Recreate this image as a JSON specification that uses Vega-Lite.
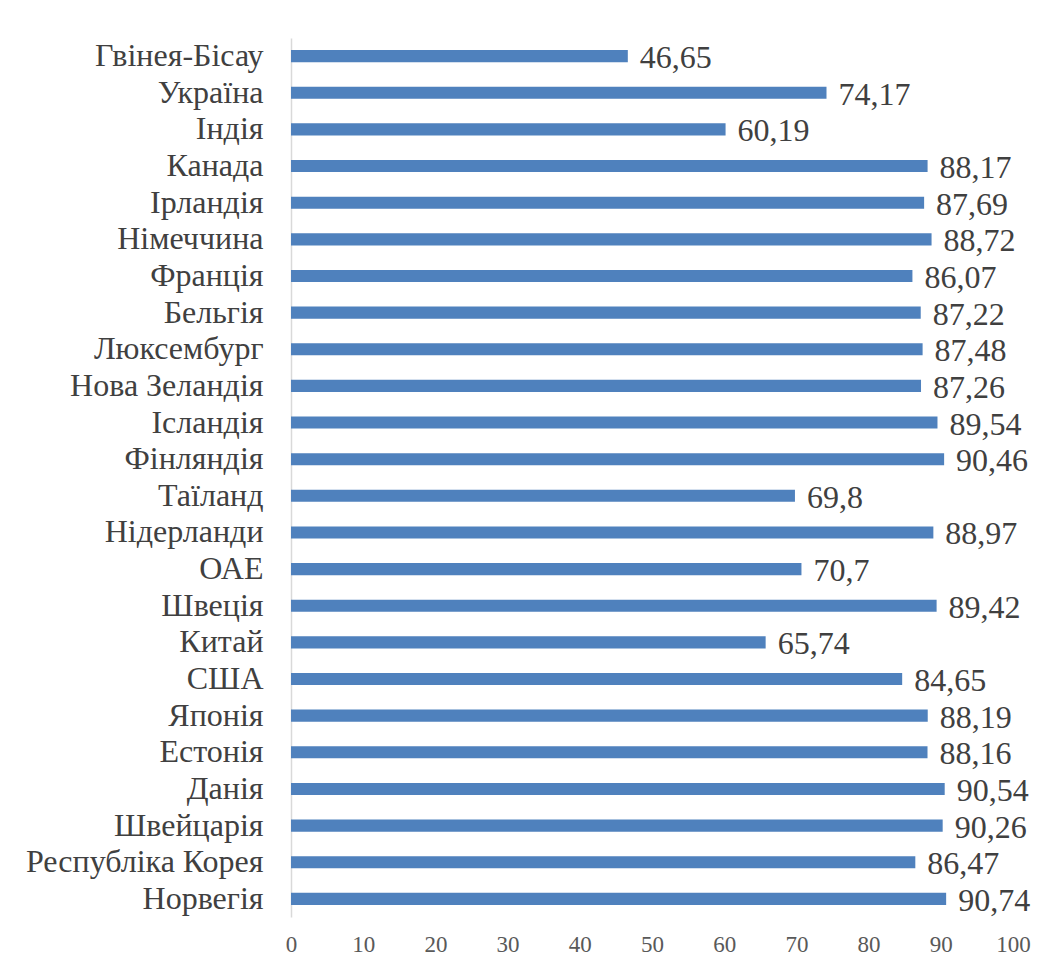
{
  "$schema": "https://vega.github.io/schema/vega-lite/v6.json",
  "width": 722,
  "height": 879,
  "autosize": "none",
  "padding": {"left": 291, "top": 38, "right": 39, "bottom": 49},
  "background": "white",
  "config": {"view": {"stroke": null}, "font": "Liberation Serif"},
  "data": {"values": [
    {"country": "Гвінея-Бісау", "value": 46.65, "label": "46,65"},
    {"country": "Україна", "value": 74.17, "label": "74,17"},
    {"country": "Індія", "value": 60.19, "label": "60,19"},
    {"country": "Канада", "value": 88.17, "label": "88,17"},
    {"country": "Ірландія", "value": 87.69, "label": "87,69"},
    {"country": "Німеччина", "value": 88.72, "label": "88,72"},
    {"country": "Франція", "value": 86.07, "label": "86,07"},
    {"country": "Бельгія", "value": 87.22, "label": "87,22"},
    {"country": "Люксембург", "value": 87.48, "label": "87,48"},
    {"country": "Нова Зеландія", "value": 87.26, "label": "87,26"},
    {"country": "Ісландія", "value": 89.54, "label": "89,54"},
    {"country": "Фінляндія", "value": 90.46, "label": "90,46"},
    {"country": "Таїланд", "value": 69.8, "label": "69,8"},
    {"country": "Нідерланди", "value": 88.97, "label": "88,97"},
    {"country": "ОАЕ", "value": 70.7, "label": "70,7"},
    {"country": "Швеція", "value": 89.42, "label": "89,42"},
    {"country": "Китай", "value": 65.74, "label": "65,74"},
    {"country": "США", "value": 84.65, "label": "84,65"},
    {"country": "Японія", "value": 88.19, "label": "88,19"},
    {"country": "Естонія", "value": 88.16, "label": "88,16"},
    {"country": "Данія", "value": 90.54, "label": "90,54"},
    {"country": "Швейцарія", "value": 90.26, "label": "90,26"},
    {"country": "Республіка Корея", "value": 86.47, "label": "86,47"},
    {"country": "Норвегія", "value": 90.74, "label": "90,74"}
  ]},
  "encoding": {
    "y": {
      "field": "country", "type": "nominal", "sort": null,
      "scale": {"paddingInner": 0.67, "paddingOuter": 0.33},
      "axis": {
        "title": null, "ticks": false, "domainColor": "#d9d9d9", "domainWidth": 1.5,
        "labelFont": "Liberation Serif", "labelFontSize": 32, "labelColor": "#404040",
        "labelPadding": 28, "labelLimit": 300
      }
    },
    "x": {
      "field": "value", "type": "quantitative",
      "scale": {"domain": [0, 100], "nice": false},
      "axis": {
        "title": null, "values": [0,10,20,30,40,50,60,70,80,90,100], "grid": false, "ticks": false, "domain": false,
        "labelFont": "Liberation Serif", "labelFontSize": 23, "labelColor": "#595959",
        "labelPadding": 16, "labelFlush": false
      }
    }
  },
  "layer": [
    {"mark": {"type": "bar", "color": "#4F81BD"}},
    {
      "mark": {"type": "text", "align": "left", "baseline": "middle", "dx": 12, "dy": 2, "fontSize": 32, "color": "#404040", "font": "Liberation Serif"},
      "encoding": {"text": {"field": "label"}}
    }
  ]
}
